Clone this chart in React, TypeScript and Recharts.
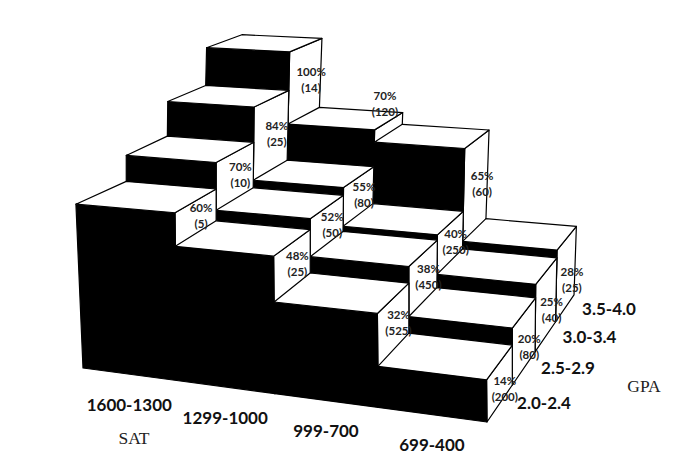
import { ScatterChart, Scatter, XAxis, YAxis } from "recharts";

// bands, left to right / front to back
const satBands = ["1600-1300", "1299-1000", "999-700", "699-400"];
const gpaBands = ["2.0-2.4", "2.5-2.9", "3.0-3.4", "3.5-4.0"];

// percent per SAT band, one list per GPA band
const pctGpa20 = [60, 48, 32, 14];
const pctGpa25 = [70, 52, 38, 20];
const pctGpa30 = [84, 55, 40, 25];
const pctGpa35 = [100, 70, 65, 28];
const percents = [pctGpa20, pctGpa25, pctGpa30, pctGpa35];

// number of students
const nGpa20 = [5, 25, 525, 200];
const nGpa25 = [10, 50, 450, 80];
const nGpa30 = [25, 80, 250, 40];
const nGpa35 = [14, 120, 60, 25];
const counts = [nGpa20, nGpa25, nGpa30, nGpa35];

const WIDTH = 700;
const HEIGHT = 474;

// camera fitted to the picture: sat and gpa are band units, pct is bar height
function project(sat: number, gpa: number, pct: number) {
    const w = 1 - 0.0236 * sat + 0.0526 * gpa;
    const lean = pct * 0.028 * (gpa - 1) - 0.09 * pct * Math.max(0, 1 - sat) * Math.max(0, 1 - gpa);
    return {
        x: (83 + 89.5 * sat + 49.9 * gpa) / w + lean,
        y: (368 + 3.54 * sat - 13.25 * gpa - 2.73 * pct) / w,
    };
}

// back row first, left to right, so nearer boxes paint over farther ones
const boxes = [3, 2, 1, 0].flatMap((gpa) =>
    satBands.map((_, sat) => {
        const pct = percents[gpa][sat];
        return { sat, gpa, pct, ...project(sat + 1, gpa, pct) };
    })
);

const valueLabels = boxes.map(({ sat, gpa, pct }) => {
    const next = sat < 3 ? percents[gpa][sat + 1] : 0;
    const top = project(sat + 1, gpa + 0.5, pct);
    const bottom = project(sat + 1, gpa + 0.5, next);
    const tooShort = pct - next < 8;
    return {
        x: tooShort ? top.x - 4 : top.x + 5,
        y: tooShort ? top.y - 18 : (top.y + bottom.y) / 2 + (sat === 3 ? 6 : -1),
        first: `${pct}%`,
        second: `(${counts[gpa][sat]})`,
    };
});

const satLabels = satBands.map((text, i) => {
    const p = project(i + 0.5, 0, 0);
    return { x: p.x, y: p.y + 30, text };
});

const gpaLabels = gpaBands.map((text, i) => {
    const p = project(4, i + 0.5, 0);
    return { x: p.x + 44, y: p.y, text };
});

const axisNames = [
    { x: 134, y: 438, text: "SAT" },
    { x: 644, y: 386, text: "GPA" },
];

function BoxShape(props: any) {
    const { cx, cy, payload } = props;
    const { sat, gpa, pct } = payload;
    const pt = (s: number, g: number, h: number) => {
        const p = project(s, g, h);
        return `${cx + p.x - payload.x},${cy + p.y - payload.y}`;
    };
    const s2 = sat + 1;
    const g2 = gpa + 1;
    const line = { stroke: "#000", strokeWidth: 1.2, strokeLinejoin: "round" as const };
    return (
        <g>
            <polygon points={[pt(s2, gpa, 0), pt(s2, g2, 0), pt(s2, g2, pct), pt(s2, gpa, pct)].join(" ")} fill="#fff" {...line} />
            <polygon points={[pt(sat, gpa, 0), pt(s2, gpa, 0), pt(s2, gpa, pct), pt(sat, gpa, pct)].join(" ")} fill="#000" {...line} />
            <polygon points={[pt(sat, gpa, pct), pt(s2, gpa, pct), pt(s2, g2, pct), pt(sat, g2, pct)].join(" ")} fill="#fff" {...line} />
        </g>
    );
}

function ValueLabel(props: any) {
    const { cx, cy, payload } = props;
    const style = { fontFamily: "Lato", fontSize: 11.5, fontWeight: 700, fill: "#222" };
    return (
        <g>
            <text x={cx} y={cy - 8} textAnchor="middle" dominantBaseline="central" style={style}>{payload.first}</text>
            <text x={cx} y={cy + 8} textAnchor="middle" dominantBaseline="central" style={style}>{payload.second}</text>
        </g>
    );
}

function BandLabel(props: any) {
    const { cx, cy, payload } = props;
    return (
        <text x={cx} y={cy} textAnchor="middle" dominantBaseline="central"
            style={{ fontFamily: "Lato", fontSize: 17, fontWeight: 700, fill: "#111" }}>
            {payload.text}
        </text>
    );
}

function AxisName(props: any) {
    const { cx, cy, payload } = props;
    return (
        <text x={cx} y={cy} textAnchor="middle" dominantBaseline="central"
            style={{ fontFamily: "Liberation Serif", fontSize: 17.5, fill: "#222" }}>
            {payload.text}
        </text>
    );
}

export default function App() {
    return (
        <div style={{ position: "absolute", left: 0, top: 0, width: WIDTH, height: HEIGHT, background: "#fff" }}>
            <ScatterChart width={WIDTH} height={HEIGHT} margin={{ top: 0, right: 0, bottom: 0, left: 0 }}>
                <XAxis type="number" dataKey="x" domain={[0, WIDTH]} hide />
                <YAxis type="number" dataKey="y" domain={[0, HEIGHT]} reversed hide />
                <Scatter data={boxes} shape={BoxShape} isAnimationActive={false} />
                <Scatter data={valueLabels} shape={ValueLabel} isAnimationActive={false} />
                <Scatter data={satLabels} shape={BandLabel} isAnimationActive={false} />
                <Scatter data={gpaLabels} shape={BandLabel} isAnimationActive={false} />
                <Scatter data={axisNames} shape={AxisName} isAnimationActive={false} />
            </ScatterChart>
        </div>
    );
}
